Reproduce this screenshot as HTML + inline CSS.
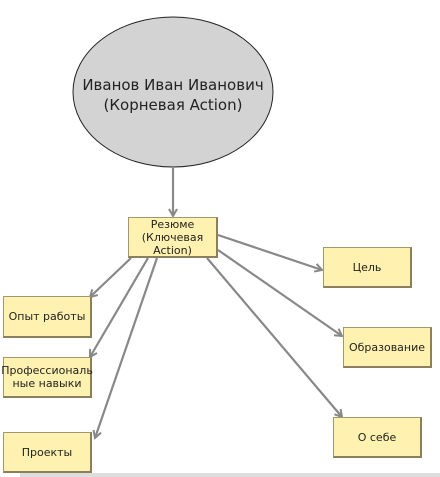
<!DOCTYPE html>
<html><head><meta charset="utf-8"><style>
body{margin:0;width:440px;height:477px;background:#fff;position:relative;overflow:hidden;font-family:"Segoe UI","DejaVu Sans","Liberation Sans",sans-serif;}
.b{position:absolute;background:#fff2b0;border:1px solid #a09870;border-right:2px solid #8a8060;border-bottom:2px solid #8a8060;box-sizing:border-box;display:flex;align-items:center;justify-content:center;text-align:center;font-size:11px;color:#222;line-height:13px;}
svg{position:absolute;left:0;top:0}
</style></head><body>
<svg width="440" height="477">
<defs><marker id="a" markerWidth="10" markerHeight="10" refX="8" refY="5" orient="auto" markerUnits="userSpaceOnUse"><path d="M1,1 L8,5 L1,9" fill="none" stroke="#888" stroke-width="2"/></marker></defs>
<ellipse cx="173" cy="92" rx="100" ry="75" fill="#d3d3d3" stroke="#222" stroke-width="1"/>
<text x="173" y="90" text-anchor="middle" font-size="15" fill="#222" font-family="Segoe UI,DejaVu Sans,Liberation Sans,sans-serif">Иванов Иван Иванович</text>
<text x="173" y="110" text-anchor="middle" font-size="15" fill="#222" font-family="Segoe UI,DejaVu Sans,Liberation Sans,sans-serif">(Корневая Action)</text>
<g stroke="#888" stroke-width="2.2" fill="none" marker-end="url(#a)">
<line x1="173" y1="167" x2="173" y2="216"/>
<line x1="131" y1="258" x2="90" y2="297"/>
<line x1="148" y1="258" x2="90" y2="357"/>
<line x1="157" y1="258" x2="95" y2="438"/>
<line x1="218" y1="235" x2="322" y2="270"/>
<line x1="218" y1="250" x2="342" y2="336"/>
<line x1="207" y1="258" x2="342" y2="417"/>
</g>
<rect x="20" y="473" width="420" height="4" fill="#ddd"/>
</svg>
<div class="b" style="left:128px;top:217px;width:90px;height:41px;">Резюме<br>(Ключевая<br>Action)</div>
<div class="b" style="left:323px;top:247px;width:89px;height:41px;">Цель</div>
<div class="b" style="left:3px;top:296px;width:89px;height:42px;">Опыт работы</div>
<div class="b" style="left:3px;top:357px;width:89px;height:41px;">Профессиональ<br>ные навыки</div>
<div class="b" style="left:3px;top:432px;width:89px;height:41px;">Проекты</div>
<div class="b" style="left:343px;top:327px;width:89px;height:41px;">Образование</div>
<div class="b" style="left:333px;top:417px;width:89px;height:41px;">О себе</div>
</body></html>
